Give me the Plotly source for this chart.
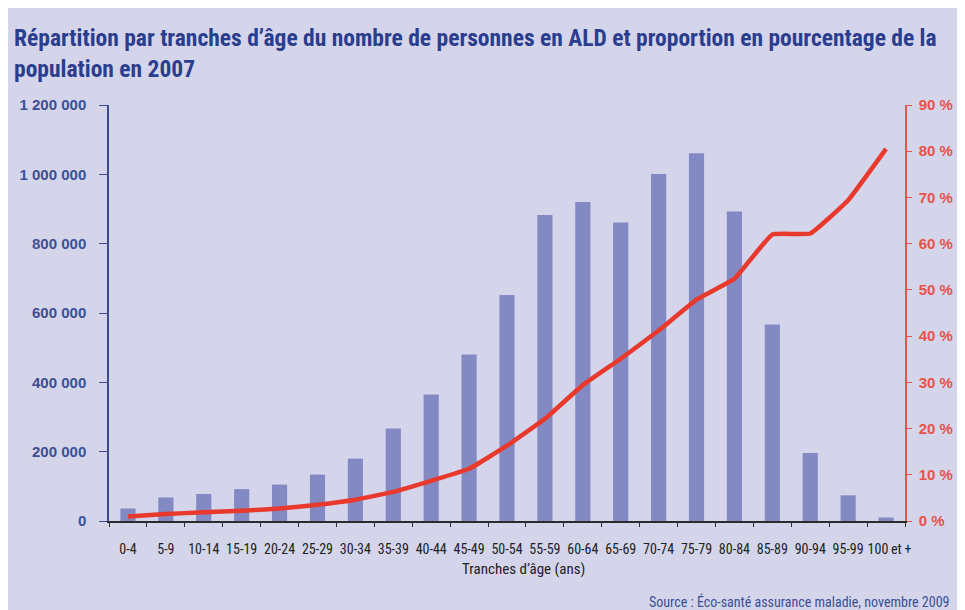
import plotly.graph_objects as go

categories = ["0-4", "5-9", "10-14", "15-19", "20-24", "25-29", "30-34", "35-39",
              "40-44", "45-49", "50-54", "55-59", "60-64", "65-69", "70-74", "75-79",
              "80-84", "85-89", "90-94", "95-99", "100 et +"]
x_ticktext = ["0-4", "5-9", "10-14", "15-19", "20-24", "25-29", "30-34", "35-39",
              "40-44", "45-49", "50-54", "55-59", "60-64", "65-69", "70-74", "75-79",
              "80-84", "85-89", "90-94", "95-99", "\u2007100\u2009et\u2009+"]
personnes_ald = [36000, 68000, 78000, 92000, 105000, 134000, 180000, 267000,
                 365000, 480000, 652000, 883000, 920000, 861000, 1001000, 1061000,
                 893000, 567000, 196000, 74000, 10000]
proportion_pct = [1.0, 1.5, 1.9, 2.2, 2.7, 3.5, 4.6, 6.3,
                  8.7, 11.3, 16.3, 22.1, 29.4, 35.1, 41.2, 47.9,
                  52.4, 62.0, 62.2, 69.4, 80.5]
left_tickvals = [0, 200000, 400000, 600000, 800000, 1000000, 1200000]
left_ticktext = ["0", "200 000", "400 000", "600 000", "800 000", "1 000 000", "1 200 000"]
right_tickvals = [0, 10, 20, 30, 40, 50, 60, 70, 80, 90]
right_ticktext = ["0 %", "10 %", "20 %", "30 %", "40 %", "50 %", "60 %", "70 %", "80 %", "90 %"]

BG = "#d4d5ea"
COND = "Noto Sans Condensed, Liberation Sans Narrow, Roboto Condensed, Arial Narrow, Roboto, sans-serif"
ARIAL = "Liberation Sans, Arial, sans-serif"

fig = go.Figure()
fig.add_trace(go.Bar(x=categories, y=personnes_ald, marker=dict(color="#8289c3", line=dict(width=0)),
                     yaxis="y", hoverinfo="x+y"))
fig.add_trace(go.Scatter(x=categories, y=proportion_pct, yaxis="y2", mode="lines",
                         line=dict(color="#e8392c", width=4.5, shape="spline", smoothing=0.3)))

# page is offset by the default 8px body margin
OFF = 8
W, H = 965 - OFF, 610 - OFF
L, T = 108 - OFF, 105 - OFF
pw, ph = 800, 416
R = W - L - pw
B = H - T - ph

def xp(page_x):
    return (page_x - OFF - L) / pw

def yp(page_y):
    return (H - B - (page_y - OFF)) / ph

fig.update_layout(
    width=W, height=H,
    margin=dict(l=L, r=R, t=T, b=B),
    paper_bgcolor=BG, plot_bgcolor=BG,
    showlegend=False,
    bargap=0.6,
    xaxis=dict(type="category", showgrid=False, showline=True, linecolor="#2b2b2b", linewidth=1.5,
               ticks="outside", tickson="boundaries", ticklen=4, tickcolor="#2b2b2b", tickangle=0,
               tickvals=categories, ticktext=x_ticktext,
               tickfont=dict(family=COND, size=14, color="#222222"), ticklabelstandoff=14,
               zeroline=False),
    yaxis=dict(range=[0, 1200000], showgrid=False, zeroline=False, showline=True, linecolor="#3a4c8e",
               linewidth=1.5, ticks="outside", ticklen=8, tickcolor="#3a4c8e",
               tickvals=left_tickvals, ticktext=left_ticktext, ticklabelstandoff=10,
               tickfont=dict(family=ARIAL, size=15, color="#3d4f96", weight="bold")),
    yaxis2=dict(range=[0, 90], overlaying="y", side="right", showgrid=False, zeroline=False,
                showline=True, linecolor="#e8534a", linewidth=1.5, ticks="outside", ticklen=5,
                tickcolor="#e8534a", tickvals=right_tickvals, ticktext=right_ticktext,
                ticklabelstandoff=4,
                tickfont=dict(family=ARIAL, size=15, color="#e5534b", weight="bold")),
    annotations=[
        dict(text="Répartition par tranches d’âge du nombre de personnes en ALD et proportion en pourcentage de la<br>population en 2007",
             xref="paper", yref="paper", x=xp(11), y=yp(22), xanchor="left", yanchor="top",
             align="left", showarrow=False,
             font=dict(family=COND, size=23.5, color="#2a3d8f", weight="bold")),
        dict(text="Tranches d’âge (ans)", xref="paper", yref="paper", x=xp(525), y=yp(569),
             xanchor="center", yanchor="middle", showarrow=False,
             font=dict(family=COND, size=15, color="#222222")),
        dict(text="Source : Éco-santé assurance maladie, novembre 2009",
             xref="paper", yref="paper", x=xp(955), y=yp(601), xanchor="right", yanchor="middle",
             showarrow=False, font=dict(family=COND, size=14, color="#3a4f96")),
    ],
)

fig.write_html("out.html")
